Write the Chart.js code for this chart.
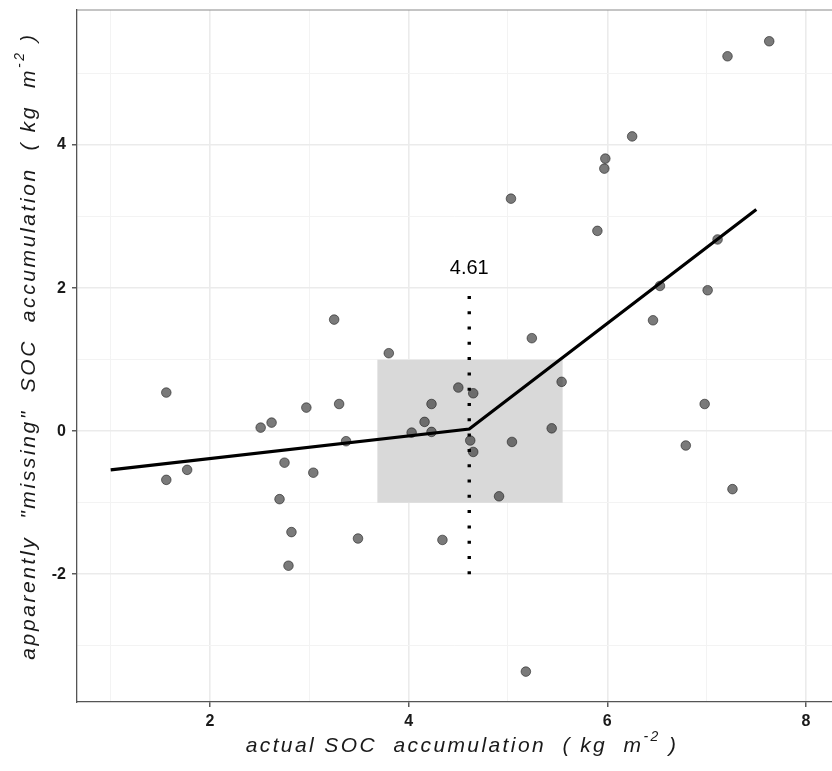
<!DOCTYPE html>
<html>
<head>
<meta charset="utf-8">
<script src="https://cdn.jsdelivr.net/npm/chart.js@4.4.1/dist/chart.umd.min.js"></script>
<style>
  html, body { margin: 0; padding: 0; background: #fff; }
  #wrap { width: 832px; height: 771px; position: relative; }
</style>
</head>
<body>
<div id="wrap"><canvas id="chart"></canvas></div>
<script>
// observed points (actual vs apparently missing SOC)
const xVals = [1.56, 1.56, 1.77, 2.51, 2.62, 2.70, 2.75, 2.82, 2.79, 2.97,
               3.04, 3.25, 3.30, 3.37, 3.49, 3.80, 4.03, 4.16, 4.23, 4.23,
               4.34, 4.50, 4.62, 4.65, 4.65, 4.91, 5.03, 5.04, 5.18, 5.24,
               5.44, 5.54, 5.90, 5.97, 5.98, 6.25, 6.46, 6.53, 6.79, 6.98,
               7.01, 7.11, 7.21, 7.63, 7.26];
const yVals = [0.54, -0.68, -0.54, 0.05, 0.12, -0.95, -0.44, -1.41, -1.88, 0.33,
               -0.58, 1.56, 0.38, -0.14, -1.50, 1.09, -0.02, 0.13, 0.38, -0.01,
               -1.52, 0.61, -0.13, -0.29, 0.53, -0.91, 3.25, -0.15, -3.36, 1.30,
               0.04, 0.69, 2.80, 3.67, 3.81, 4.12, 1.55, 2.03, -0.20, 0.38,
               1.97, 2.68, 5.24, 5.45, -0.81];

// piecewise fit
const fitX = [1, 4.61, 7.5];
const fitY = [-0.54, 0.03, 3.10];

// breakpoint marker and its confidence box
const breakX = 4.61;
const breakLineY = [-2, 2];
const breakLabel = '4.61';
const breakLabelY = 2.28;
const boxX = [3.685, 5.55];
const boxY = [-1, 1];

// axes
const xTicks = [2, 4, 6, 8];
const xMinor = [1, 3, 5, 7];
const yTicks = [-2, 0, 2, 4];
const yMinor = [-3, -1, 1, 3, 5];
const xRange = [0.661, 8.262];
const yRange = [-3.785, 5.887];

const xTitle = [{ t: 'actual SOC  accumulation  ( kg  m' }, { t: '-2', sup: true }, { t: ' )' }];
const yTitle = [{ t: 'apparently  "missing"  SOC  accumulation  ( kg  m' }, { t: '-2', sup: true }, { t: ' )' }];

const scatterPts = xVals.map((x, i) => ({ x: x, y: yVals[i] }));
const fitPts = fitX.map((x, i) => ({ x: x, y: fitY[i] }));
const breakPts = breakLineY.map(y => ({ x: breakX, y: y }));

function buildTicks(major, minor) {
    return function (scale) {
        scale.ticks = major.concat(minor).sort((a, b) => a - b).map(v => ({ value: v }));
    };
}

const isMajor = (list) => (ctx) => ctx.tick && list.includes(ctx.tick.value);

// draw a title with a superscript piece
function drawTitle(ctx, parts, cx, cy, rotate, spacing) {
    const base = 'italic 21px "Liberation Sans", Arial, sans-serif';
    const small = 'italic 14px "Liberation Sans", Arial, sans-serif';
    ctx.save();
    ctx.letterSpacing = spacing + 'px';
    let total = 0;
    parts.forEach(p => {
        ctx.font = p.sup ? small : base;
        p.w = ctx.measureText(p.t).width;
        total += p.w;
    });
    ctx.translate(cx, cy);
    if (rotate) ctx.rotate(-Math.PI / 2);
    ctx.fillStyle = '#1a1a1a';
    ctx.textBaseline = 'middle';
    ctx.textAlign = 'left';
    let x = -total / 2;
    parts.forEach(p => {
        ctx.font = p.sup ? small : base;
        ctx.fillText(p.t, x, p.sup ? -9 : 0);
        x += p.w;
    });
    ctx.restore();
}

const decorPlugin = {
    id: 'decor',
    beforeDatasetsDraw(chart) {
        const { ctx, scales: { x, y } } = chart;
        ctx.save();
        ctx.fillStyle = '#d9d9d9';
        const l = x.getPixelForValue(boxX[0]), r = x.getPixelForValue(boxX[1]);
        const t = y.getPixelForValue(boxY[1]), b = y.getPixelForValue(boxY[0]);
        ctx.fillRect(l, t, r - l, b - t);
        ctx.restore();
    },
    afterDraw(chart) {
        const { ctx, chartArea, scales: { x, y } } = chart;
        ctx.save();
        // panel border (top only, right side is outside the picture)
        ctx.strokeStyle = '#8a8a8a';
        ctx.lineWidth = 1.2;
        ctx.beginPath();
        ctx.moveTo(chartArea.left, chartArea.top);
        ctx.lineTo(chartArea.right, chartArea.top);
        ctx.stroke();
        // breakpoint label
        ctx.font = '20px "Liberation Sans", Arial, sans-serif';
        ctx.fillStyle = '#000';
        ctx.textAlign = 'center';
        ctx.textBaseline = 'middle';
        ctx.fillText(breakLabel, x.getPixelForValue(breakX), y.getPixelForValue(breakLabelY));
        ctx.restore();
        drawTitle(ctx, xTitle, 462, 746, false, 2.4);
        drawTitle(ctx, yTitle, 29, 346, true, 2.6);
    }
};

new Chart(document.getElementById('chart'), {
    type: 'scatter',
    data: {
        datasets: [
            {
                data: scatterPts,
                order: 3,
                pointRadius: 4.8,
                pointHoverRadius: 4.8,
                pointBackgroundColor: 'rgba(40, 40, 40, 0.62)',
                pointBorderColor: 'rgba(20, 20, 20, 0.55)',
                pointBorderWidth: 1
            },
            {
                data: fitPts,
                order: 2,
                showLine: true,
                borderColor: '#000',
                borderWidth: 3.2,
                pointRadius: 0
            },
            {
                data: breakPts,
                order: 1,
                showLine: true,
                borderColor: '#000',
                borderWidth: 3.4,
                borderDash: [3, 12.3],
                borderCapStyle: 'butt',
                pointRadius: 0
            }
        ]
    },
    options: {
        responsive: true,
        maintainAspectRatio: false,
        animation: false,
        events: [],
        layout: { autoPadding: false, padding: { top: 10, right: 0, left: 0, bottom: 0 } },
        plugins: {
            legend: { display: false },
            tooltip: { enabled: false }
        },
        scales: {
            x: {
                type: 'linear',
                min: xRange[0],
                max: xRange[1],
                afterBuildTicks: buildTicks(xTicks, xMinor),
                afterFit: (s) => { s.height = 69; s.paddingLeft = 0; s.paddingRight = 0; },
                grid: {
                    color: (c) => isMajor(xTicks)(c) ? '#ebebeb' : '#f3f3f3',
                    lineWidth: (c) => isMajor(xTicks)(c) ? 1.6 : 1,
                    tickColor: (c) => isMajor(xTicks)(c) ? '#333' : 'rgba(0,0,0,0)',
                    tickLength: 5,
                    tickWidth: 1.2
                },
                border: { display: true, color: '#555', width: 1.3 },
                ticks: {
                    autoSkip: false,
                    maxRotation: 0,
                    padding: 5,
                    color: '#1a1a1a',
                    font: { family: '"Liberation Sans", Arial, sans-serif', size: 16, weight: 'bold' },
                    callback: (v) => xTicks.includes(v) ? String(v) : ''
                }
            },
            y: {
                type: 'linear',
                min: yRange[0],
                max: yRange[1],
                afterBuildTicks: buildTicks(yTicks, yMinor),
                afterFit: (s) => { s.width = 77; s.paddingTop = 0; s.paddingBottom = 0; },
                grid: {
                    color: (c) => isMajor(yTicks)(c) ? '#ebebeb' : '#f3f3f3',
                    lineWidth: (c) => isMajor(yTicks)(c) ? 1.6 : 1,
                    tickColor: (c) => isMajor(yTicks)(c) ? '#333' : 'rgba(0,0,0,0)',
                    tickLength: 5,
                    tickWidth: 1.2
                },
                border: { display: true, color: '#555', width: 1.3 },
                ticks: {
                    autoSkip: false,
                    padding: 6,
                    color: '#1a1a1a',
                    font: { family: '"Liberation Sans", Arial, sans-serif', size: 16, weight: 'bold' },
                    callback: (v) => yTicks.includes(v) ? String(v) : ''
                }
            }
        }
    },
    plugins: [decorPlugin]
});
</script>
</body>
</html>
